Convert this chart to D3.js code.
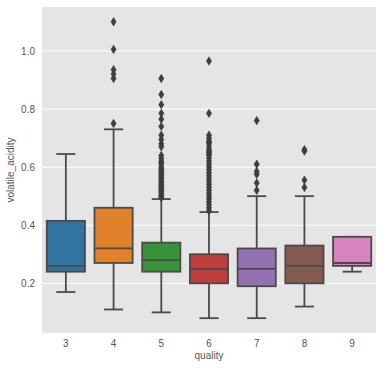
<!DOCTYPE html>
<html><head><meta charset="utf-8">
<script src="https://cdn.jsdelivr.net/npm/d3@7"></script>
<style>body{margin:0;background:#fff}svg{display:block}text{font-family:"Liberation Sans",Arial,sans-serif}</style>
</head><body>
<svg id="c" width="383" height="369"></svg>
<script>
const categories = ["3","4","5","6","7","8","9"];
const whiskerLow  = [0.17, 0.11, 0.10, 0.08, 0.08, 0.12, 0.24];
const q1          = [0.24, 0.27, 0.24, 0.20, 0.19, 0.20, 0.26];
const median      = [0.26, 0.32, 0.28, 0.25, 0.25, 0.26, 0.27];
const q3          = [0.415, 0.46, 0.34, 0.30, 0.32, 0.33, 0.36];
const whiskerHigh = [0.645, 0.73, 0.49, 0.445, 0.50, 0.50, 0.36];
const outliers = [
  [],
  [1.10, 1.005, 0.935, 0.92, 0.905, 0.75],
  [0.905, 0.85, 0.815, 0.785, 0.765, 0.74, 0.71, 0.695, 0.68, 0.67, 0.64, 0.63, 0.62, 0.615, 0.61, 0.60, 0.595, 0.59, 0.585, 0.58, 0.575, 0.57, 0.565, 0.56, 0.555, 0.55, 0.545, 0.54, 0.535, 0.53, 0.525, 0.52, 0.515, 0.51, 0.505, 0.50, 0.495],
  [0.965, 0.785, 0.71, 0.70, 0.69, 0.685, 0.68, 0.67, 0.66, 0.655, 0.65, 0.645, 0.64, 0.63, 0.62, 0.61, 0.60, 0.59, 0.58, 0.57, 0.56, 0.55, 0.54, 0.53, 0.52, 0.51, 0.50, 0.49, 0.48, 0.47, 0.46, 0.45],
  [0.76, 0.61, 0.585, 0.575, 0.545, 0.52],
  [0.66, 0.655, 0.555, 0.53],
  []
];
const colors = ["#3274a1","#e1812c","#3a923a","#c03d3e","#9372b2","#845b53","#d684bd"];
const yTicks = [0.2, 0.4, 0.6, 0.8, 1.0];

const svg = d3.select("#c");
const m = {l:42, t:7, r:7, b:36};
const W = 383, H = 369;
const x = d3.scaleBand().domain(categories).range([m.l, W - m.r]).paddingInner(0).paddingOuter(0);
const y = d3.scaleLinear().domain([0.029, 1.151]).range([H - m.b, m.t]);
const txt = "#555555";

svg.append("rect").attr("x", m.l).attr("y", m.t).attr("width", W - m.r - m.l).attr("height", H - m.b - m.t).attr("fill", "#e5e5e5");

// grid
svg.append("g").selectAll("line").data(yTicks).join("line")
  .attr("x1", m.l).attr("x2", W - m.r).attr("y1", d => y(d)).attr("y2", d => y(d))
  .attr("stroke", "#fff").attr("stroke-width", 1);

// axes
const yAxis = svg.append("g").attr("transform", `translate(${m.l},0)`)
  .call(d3.axisLeft(y).tickValues(yTicks).tickFormat(d3.format(".1f")).tickSize(0).tickPadding(7));
yAxis.select(".domain").remove();
yAxis.selectAll("text").attr("font-size", 10).attr("fill", txt);

const xAxis = svg.append("g").attr("transform", `translate(0,${H - m.b})`)
  .call(d3.axisBottom(x).tickSize(0).tickPadding(7));
xAxis.select(".domain").remove();
xAxis.selectAll("text").attr("font-size", 10).attr("fill", txt);

svg.append("text").attr("x", (m.l + W - m.r) / 2).attr("y", 359).attr("text-anchor", "middle")
  .attr("font-size", 10).attr("fill", txt).text("quality");
svg.append("text").attr("transform", `translate(14,${(m.t + H - m.b) / 2}) rotate(-90)`).attr("text-anchor", "middle")
  .attr("font-size", 10).attr("fill", txt).text("volatile_acidity");

const lc = "#4a4a4a", lw = 1.8;
const bw = x.bandwidth() * 0.8;
categories.forEach((c, i) => {
  const cx = x(c) + x.bandwidth() / 2;
  const g = svg.append("g");
  g.append("line").attr("x1", cx).attr("x2", cx).attr("y1", y(q3[i])).attr("y2", y(whiskerHigh[i])).attr("stroke", lc).attr("stroke-width", lw);
  g.append("line").attr("x1", cx).attr("x2", cx).attr("y1", y(q1[i])).attr("y2", y(whiskerLow[i])).attr("stroke", lc).attr("stroke-width", lw);
  [whiskerHigh[i], whiskerLow[i]].forEach(v => {
    g.append("line").attr("x1", cx - bw / 4).attr("x2", cx + bw / 4).attr("y1", y(v)).attr("y2", y(v)).attr("stroke", lc).attr("stroke-width", lw);
  });
  g.append("rect").attr("x", cx - bw / 2).attr("width", bw).attr("y", y(q3[i])).attr("height", y(q1[i]) - y(q3[i]))
    .attr("fill", colors[i]).attr("stroke", lc).attr("stroke-width", lw);
  g.append("line").attr("x1", cx - bw / 2).attr("x2", cx + bw / 2).attr("y1", y(median[i])).attr("y2", y(median[i])).attr("stroke", lc).attr("stroke-width", lw);
  g.selectAll("path").data(outliers[i]).join("path")
    .attr("d", d => `M${cx},${y(d) - 4.2}L${cx + 2.6},${y(d)}L${cx},${y(d) + 4.2}L${cx - 2.6},${y(d)}Z`)
    .attr("fill", "#3d3d3d").attr("stroke", "#3d3d3d").attr("stroke-width", 0.6);
});
</script>
</body></html>
